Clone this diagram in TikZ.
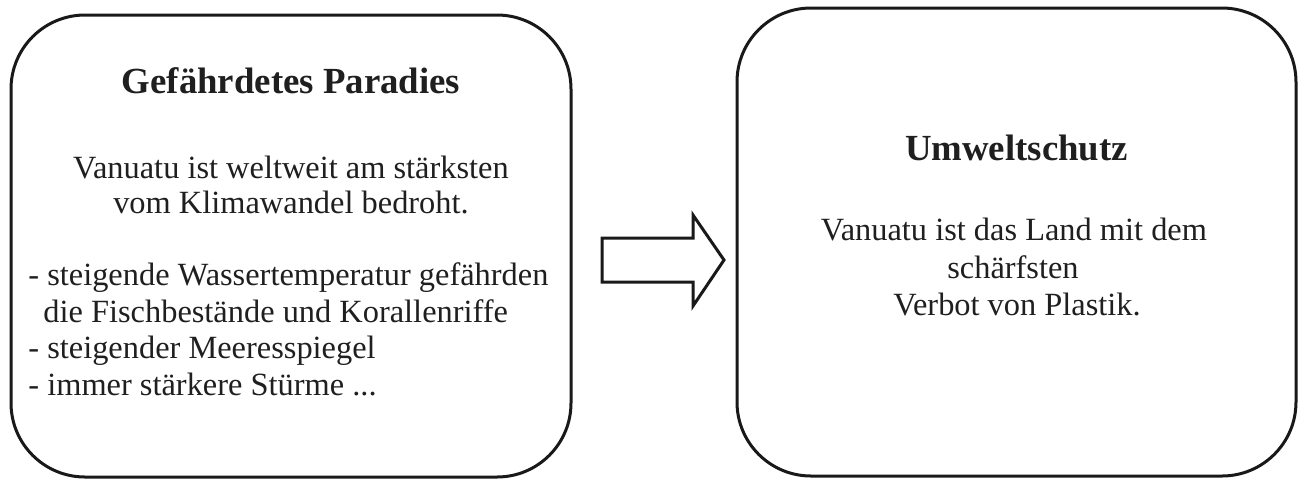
\documentclass[tikz,border=0pt]{standalone}
\usepackage{fontspec}
\setmainfont{Liberation Serif}
\begin{document}
\begin{tikzpicture}[x=0.5pt,y=-0.5pt,
  box/.style={draw=black!90,line width=1.5pt,rounded corners=37pt,inner sep=0pt},
  title/.style={anchor=base,inner sep=0pt,font=\fontsize{18.4}{22}\selectfont\bfseries,text=black!88},
  body/.style={anchor=base,inner sep=0pt,font=\fontsize{16.2}{19}\selectfont,text=black!88},
  bodyl/.style={body,anchor=base west},
  arrowshape/.style={draw=black!90,line width=1.5pt,line join=miter}]
\useasboundingbox (0,0) rectangle (1298,479);
\node[box,minimum width=280pt,minimum height=231pt] (left) at (291,246) {};
\node[box,minimum width=279.5pt,minimum height=234pt] (right) at (1016.5,242) {};
\node[title] (t1) at (291,93) {Gefährdetes Paradies};
\node[body] (l1) at (291,178) {Vanuatu ist weltweit am stärksten};
\node[body] (l2) at (291,213) {vom Klimawandel bedroht.};
\node[bodyl] (l3) at (28,285) {- steigende Wassertemperatur gefährden};
\node[bodyl] (l4) at (43,322) {die Fischbestände und Korallenriffe};
\node[bodyl] (l5) at (28,358) {- steigender Meeresspiegel};
\node[bodyl] (l6) at (28,395) {- immer stärkere Stürme ...};
\node[title] (t2) at (1016.5,160) {Umweltschutz};
\node[body] (r1) at (1014,240) {Vanuatu ist das Land mit dem};
\node[body] (r2) at (1013,278) {schärfsten};
\node[body] (r3) at (1017,315) {Verbot von Plastik.};
\draw[arrowshape] (602,238) -- (693,238) -- (693,215) -- (724,260) -- (693,306) -- (693,282) -- (602,282) -- cycle;
\end{tikzpicture}
\end{document}
